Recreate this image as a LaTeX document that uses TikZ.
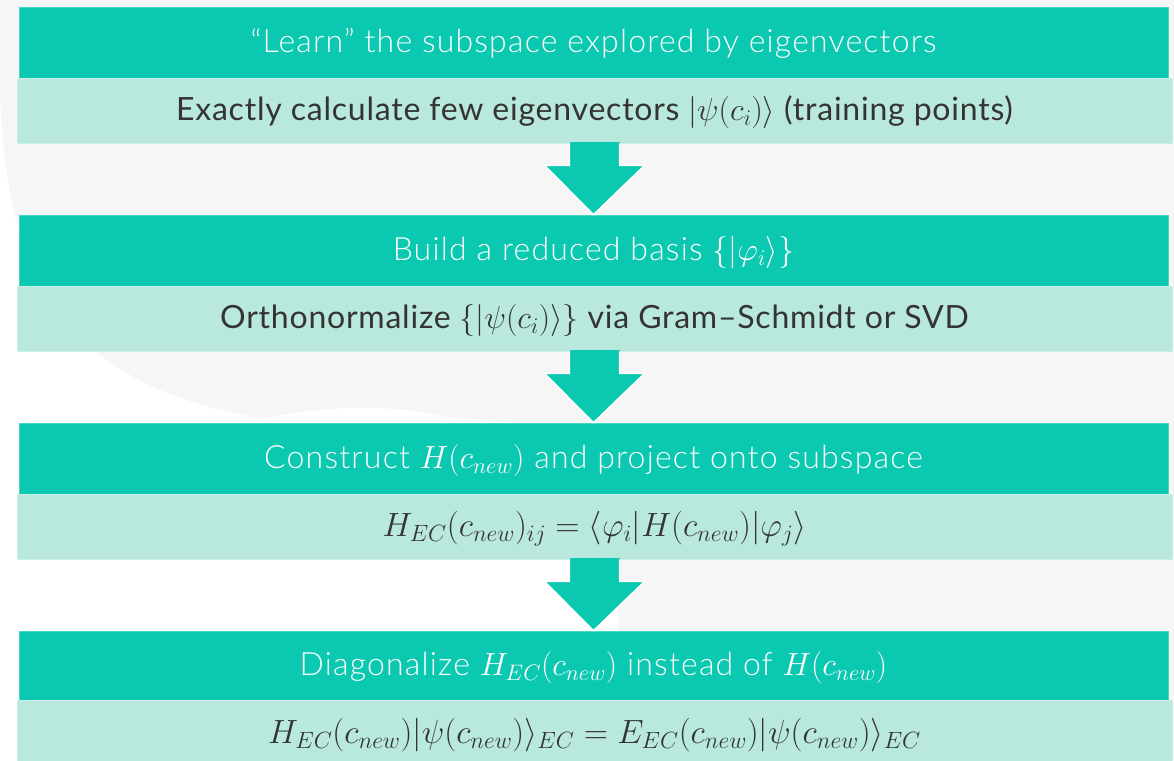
\RequirePackage{fix-cm}
\documentclass[tikz,border=0pt]{standalone}
\usepackage[no-math]{fontspec}
\setmainfont{Lato}[LetterSpace=2.4]
\newfontfamily\headfont{Lato Light}[LetterSpace=3.7]
\usetikzlibrary{calc}

\definecolor{hdrcol}{RGB}{11,200,176}
\definecolor{barcol}{RGB}{185,232,221}
\definecolor{inkcol}{RGB}{52,52,52}
\definecolor{bggray}{RGB}{246,246,246}

\tikzset{
  header/.style={rectangle, fill=hdrcol, draw=hdrcol!75!white, line width=0.8pt,
    minimum width=1149pt, minimum height=71pt, inner sep=0pt,
    text=white, font=\headfont\fontsize{32}{38}\selectfont,
    text height=26.5pt, text depth=7pt},
  detail/.style={rectangle, fill=barcol, draw=barcol!70!white, line width=0.8pt,
    minimum width=1155pt, minimum height=65pt, inner sep=0pt,
    text=inkcol, font=\fontsize{32}{38}\selectfont,
    text height=26.5pt, text depth=7pt},
  formula/.style={detail, font=\fontsize{33.6}{40}\selectfont},
  blockarrow/.style={fill=hdrcol, draw=white, line width=1.4pt, line join=miter}
}

\begin{document}
\begin{tikzpicture}[x=1pt,y=-1pt]
\useasboundingbox (0,0) rectangle (1174,760);

% backdrop: pale grey with a white swathe sweeping in from the lower left
\fill[bggray] (0,0) rectangle (1174,760);
\fill[white] (0,80) .. controls (2,270) and (60,385) .. (260,418)
  .. controls (320,408) and (380,402) .. (440,416)
  -- (618,432) -- (618,770) -- (0,770) -- cycle;

% step 1
\node[header] (h1) at (593.5,42.5) {“Learn” the subspace explored by eigenvectors};
\node[detail] (d1) at (594.5,110.5) {Exactly calculate few eigenvectors $|\psi(c_i)\rangle$ (training points)};

% step 2
\node[header] (h2) at (593.5,250.5) {Build a reduced basis $\{|\varphi_i\rangle\}$};
\node[detail] (d2) at (594.5,318.5) {Orthonormalize $\{|\psi(c_i)\rangle\}$ via Gram–Schmidt or SVD};

% step 3
\node[header] (h3) at (593.5,458.5) {Construct $H(c_{new})$ and project onto subspace};
\node[formula] (d3) at (594.5,526.5) {$H_{EC}(c_{new})_{ij} = \langle\varphi_i|H(c_{new})|\varphi_j\rangle$};

% step 4
\node[header, minimum height=69pt] (h4) at (593.5,665.5) {Diagonalize $H_{EC}(c_{new})$ instead of $H(c_{new})$};
\node[formula, minimum height=68pt] (d4) at (594.5,734) {$H_{EC}(c_{new})|\psi(c_{new})\rangle_{EC} = E_{EC}(c_{new})|\psi(c_{new})\rangle_{EC}$};

% block arrows between the steps
\foreach \a/\b in {d1/h2, d2/h3, d3/h4}{
  \fill[hdrcol] ($(\a.south)+(-25,-1)$) rectangle ($(\a.south)+(25,22)$);
  \draw[blockarrow] ($(\a.south)+(-25,0)$) -- ($(\a.south)+(-25,22)$)
    -- ($(\a.south)+(-50,22)$) -- (\b.north)
    -- ($(\a.south)+(50,22)$) -- ($(\a.south)+(25,22)$) -- ($(\a.south)+(25,0)$);
}
\end{tikzpicture}
\end{document}
